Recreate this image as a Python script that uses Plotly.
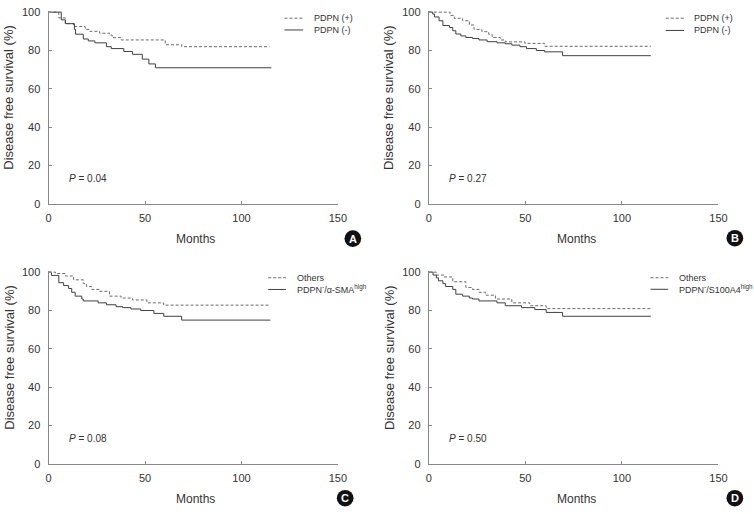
import plotly.graph_objects as go

# ---------------- data ----------------
panels = ["A", "B", "C", "D"]

a_pos_t = [0, 5.3, 8.7, 13, 19, 21.4, 26.5, 31.6, 33, 37.6, 60.5, 69, 114.5]
a_pos_s = [100, 97, 94, 92.5, 91, 90, 89, 88, 86.7, 85.5, 83, 82, 82]
a_neg_t = [0, 6.6, 8.7, 13.4, 14, 18, 20.6, 24, 30, 32.5, 39, 43.5, 48.6, 52, 55.4, 115.5]
a_neg_s = [100, 96, 94, 91, 88.5, 86, 85, 84, 82, 81, 79.5, 78, 75.5, 73, 71, 71]

b_pos_t = [0, 11, 13.2, 17.5, 21, 23.4, 27.5, 31, 32.8, 37, 39.6, 49.8, 60, 115]
b_pos_s = [100, 98.3, 96.8, 95.5, 93.3, 91, 89.8, 88.4, 86.8, 85.5, 84.5, 83.7, 82.2, 82.2]
b_neg_t = [0, 2, 3, 5.3, 7.3, 10.7, 12.4, 14, 16.6, 19.2, 22.6, 26, 30.2, 35.3, 39.6, 43,
           47.2, 50.6, 55.7, 60, 69.3, 115]
b_neg_s = [100, 99, 97.5, 95.5, 93, 92, 90.3, 88.6, 87.6, 86.8, 86.3, 85.5, 84.6, 84, 83.5, 82.8,
           82, 81, 80, 79.3, 77.3, 77.3]

c_pos_t = [0, 3.6, 8.7, 13, 18, 19.7, 22.3, 26.5, 31.6, 37.6, 43.5, 51, 59.7, 114]
c_pos_s = [100, 99.3, 98, 96, 94, 92.5, 91, 90, 87.5, 86.5, 85.5, 84, 82.8, 82.8]
c_neg_t = [0, 1.5, 5.3, 7.8, 10.4, 12, 13.8, 17.2, 18, 25.7, 30, 35, 38.4, 42.7, 47.8, 54.6,
           59.7, 69, 115]
c_neg_s = [100, 98.3, 94.5, 93, 91.5, 89.5, 87.5, 86, 85, 84, 83, 82, 81.5, 80.8, 80, 78.5,
           77, 75, 75]

d_pos_t = [0, 3.9, 7.8, 12.4, 19.2, 22.6, 26, 29.4, 34.5, 43, 52.3, 60.8, 115]
d_pos_s = [100, 98.5, 97.5, 95, 92, 91, 89.5, 88, 86, 84, 82.5, 81, 81]
d_neg_t = [0, 2.2, 3.9, 5, 7.3, 8.7, 12.4, 14, 17.5, 21, 22.6, 26, 35.3, 39.6, 48, 54.9,
           60.8, 69.3, 115]
d_neg_s = [100, 98.5, 97, 95.5, 94, 92.5, 91, 88.5, 87.5, 86.5, 86, 85, 84, 82.5, 81.5, 80.5,
           79, 77, 77]

series = {
    "A": (a_pos_t, a_pos_s, a_neg_t, a_neg_s),
    "B": (b_pos_t, b_pos_s, b_neg_t, b_neg_s),
    "C": (c_pos_t, c_pos_s, c_neg_t, c_neg_s),
    "D": (d_pos_t, d_pos_s, d_neg_t, d_neg_s),
}
legend_labels = {
    "A": ("PDPN (+)", "PDPN (-)"),
    "B": ("PDPN (+)", "PDPN (-)"),
    "C": ("Others", "PDPN<sup>-</sup>/α-SMA<sup>high</sup>"),
    "D": ("Others", "PDPN<sup>-</sup>/S100A4<sup>high</sup>"),
}
p_values = {"A": "0.04", "B": "0.27", "C": "0.08", "D": "0.50"}

x_ticks = [0, 50, 100, 150]
y_ticks = [0, 20, 40, 60, 80, 100]
x_title = "Months"
y_title = "Disease free survival (%)"

# ---------------- layout geometry ----------------
W, H = 754, 514
FONT = "Liberation Sans, Arial, sans-serif"
TXT = "#333333"
AXC = "#888888"

def px(x):
    return x / W

def py(y):
    return 1 - y / H

YMAX = 100.6
unit = 1.96
geo = {  # left px, right px, bottom px (y=0)
    "A": (46.3, 340.3, 203.3),
    "B": (432.7, 727.0, 203.3),
    "C": (46.3, 340.3, 469.0),
    "D": (432.7, 727.0, 469.0),
}

fig = go.Figure()
annotations = []
shapes = []

for i, p in enumerate(panels):
    n = "" if i == 0 else str(i + 1)
    xa, ya = "x" + n, "y" + n
    l, r, b = geo[p]
    top = b - unit * YMAX
    pt, ps, nt, ns = series[p]
    fig.add_trace(go.Scatter(x=pt, y=ps, mode="lines", line_shape="hv",
                             line=dict(color="#6a6a6a", width=1, dash="3px,2px"),
                             name=legend_labels[p][0], showlegend=False,
                             xaxis=xa, yaxis=ya))
    fig.add_trace(go.Scatter(x=nt, y=ns, mode="lines", line_shape="hv",
                             line=dict(color="#404040", width=1),
                             name=legend_labels[p][1], showlegend=False,
                             xaxis=xa, yaxis=ya))
    axis_common = dict(showline=True, linecolor=AXC, linewidth=1, ticks="inside",
                       ticklen=3, tickcolor=AXC, tickwidth=1, showgrid=False,
                       zeroline=False, tickfont=dict(family=FONT, size=11, color=TXT))
    fig.layout["xaxis" + n] = dict(axis_common, domain=[px(l), px(r)], range=[0, 150],
                                   tickvals=x_ticks, anchor=ya, ticklabelstandoff=4)
    fig.layout["yaxis" + n] = dict(axis_common, domain=[py(b), py(top)], range=[0, YMAX],
                                   tickvals=y_ticks, anchor=xa, ticklabelstandoff=5)

    # axis titles
    annotations.append(dict(text=x_title, xref="paper", yref="paper",
                            x=px((l + r) / 2 + 2.5), y=py(b + 35.5),
                            xanchor="center", yanchor="middle", showarrow=False,
                            font=dict(family=FONT, size=12, color=TXT)))
    annotations.append(dict(text=y_title, xref="paper", yref="paper",
                            x=px(l - 40.5), y=py(b - 109.3), textangle=-90,
                            xanchor="center", yanchor="middle", showarrow=False,
                            font=dict(family=FONT, size=13, color=TXT)))
    # p value
    annotations.append(dict(text="<i>P</i> = " + p_values[p], xref=xa, yref=ya,
                            x=9.5, y=13.4, xanchor="left", yanchor="middle",
                            showarrow=False, font=dict(family=FONT, size=10, color=TXT)))

# legends (drawn manually: sample line + label)
leg_geo = {  # line x0, line x1, text x, row1 y, row2 y
    "A": (286, 305, 314, 13.5, 25.5),
    "B": (673.5, 692, 700, 13.5, 26),
    "C": (269.5, 287.5, 297, 278.7, 290.7),
    "D": (658, 676, 685, 278.7, 290.5),
}
for p in panels:
    x0, x1, tx, y1, y2 = leg_geo[p]
    shapes.append(dict(type="line", xref="paper", yref="paper", x0=px(x0), x1=px(x1),
                       y0=py(y1), y1=py(y1), line=dict(color="#6a6a6a", width=1, dash="3px,2px")))
    shapes.append(dict(type="line", xref="paper", yref="paper", x0=px(x0), x1=px(x1),
                       y0=py(y2), y1=py(y2), line=dict(color="#404040", width=1)))
    for lab, yy in zip(legend_labels[p], (y1, y2)):
        annotations.append(dict(text=lab, xref="paper", yref="paper", x=px(tx), y=py(yy),
                                xanchor="left", yanchor="middle", showarrow=False,
                                font=dict(family=FONT, size=9, color=TXT)))

# panel letters
letter_pos = {"A": (355.5, 238.7), "B": (743.7, 238.3), "C": (347.7, 504), "D": (743.7, 504)}
R = 8.5
for p in panels:
    cx, cy = letter_pos[p]
    shapes.append(dict(type="circle", xref="paper", yref="paper",
                       x0=px(cx - R), x1=px(cx + R), y0=py(cy + R), y1=py(cy - R),
                       fillcolor="#111111", line=dict(color="#111111", width=0)))
    annotations.append(dict(text="<b>" + p + "</b>", xref="paper", yref="paper",
                            x=px(cx), y=py(cy), xanchor="center", yanchor="middle",
                            showarrow=False, font=dict(family=FONT, size=11, color="white")))

fig.update_layout(width=W, height=H, margin=dict(l=0, r=0, t=0, b=0),
                  paper_bgcolor="white", plot_bgcolor="white",
                  annotations=annotations, shapes=shapes, showlegend=False)

fig.write_html("out.html", config={"displayModeBar": False},
               post_script="document.body.style.margin='0';document.body.style.overflow='hidden';")
